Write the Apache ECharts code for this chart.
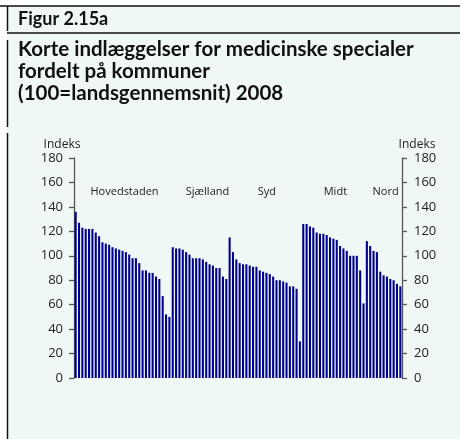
<!DOCTYPE html>
<html>
<head>
<meta charset="utf-8">
<script src="https://cdn.jsdelivr.net/npm/echarts@6/dist/echarts.min.js"></script>
<style>
html,body{margin:0;padding:0;background:#fff;}
#c{width:469px;height:439px;}
</style>
</head>
<body>
<div id="c"></div>
<script>
// ---- data ----
const regionNames = ["Hovedstaden", "Sjælland", "Syd", "Midt", "Nord"];
const hovedstaden = [136,127,123,122,122,122,119,116,111,110,109,107,106,105,104,103,101,98,98,94,88,88,86,86,83,81,67,52,50];
const sjaelland = [107,106,106,105,103,101,98,98,98,97,95,93,92,90,90,83,81];
const syd = [115,103,97,94,93,93,92,91,91,88,87,86,85,83,80,80,79,78,75,75,73,30];
const midt = [126,126,124,123,119,118,118,117,115,114,113,108,106,104,100,100,100,88,61];
const nord = [112,108,104,103,87,84,83,81,80,77,75];
const yTicks = [0,20,40,60,80,100,120,140,160,180];
const titleTop = "Figur 2.15a";
const titleLines = ["Korte indlæggelser for medicinske specialer", "fordelt på kommuner", "(100=landsgennemsnit) 2008"];
const axisName = "Indeks";

const regionData = [hovedstaden, sjaelland, syd, midt, nord];
const labelNudge = [0, 6, 0, 0, 0];
const categories = [];
const values = [];
const regionRanges = [];
regionData.forEach((arr, r) => {
  const start = categories.length;
  arr.forEach((v, i) => { categories.push(regionNames[r] + " " + (i + 1)); values.push(v); });
  regionRanges.push([start, categories.length - 1]);
});

const chart = echarts.init(document.getElementById('c'), null, {renderer: 'canvas'});
const tickFont = {fontFamily: 'Open Sans', fontSize: 13, color: '#222'};
const axisCommon = {
  type: 'value', min: yTicks[0], max: yTicks[yTicks.length - 1], interval: 20,
  axisLine: {show: true, lineStyle: {color: '#555', width: 1.3}},
  axisTick: {show: true, length: 5, lineStyle: {color: '#555', width: 1.3}},
  splitLine: {show: false},
};
chart.setOption({
  backgroundColor: '#ffffff',
  animation: false,
  grid: {left: 74, right: 67, top: 158, bottom: 61},
  xAxis: {type: 'category', data: categories, axisLine: {show: false}, axisTick: {show: false}, axisLabel: {show: false}},
  yAxis: [
    Object.assign({}, axisCommon, {position: 'left', axisLabel: Object.assign({margin: 11}, tickFont)}),
    Object.assign({}, axisCommon, {position: 'right', axisLabel: Object.assign({margin: 12}, tickFont)})
  ],
  series: [{type: 'bar', data: values, yAxisIndex: 0, barCategoryGap: '38%', itemStyle: {color: '#00008b'}}]
});

function build() {
  const g = [];
  g.push({type: 'rect', z: -10, shape: {x: 7, y: 6, width: 453, height: 433}, style: {fill: '#f0f8f5'}});
  g.push({type: 'line', shape: {x1: 0, y1: 6, x2: 460, y2: 6}, style: {stroke: '#111', lineWidth: 1.5}});
  g.push({type: 'line', shape: {x1: 7.5, y1: 6, x2: 7.5, y2: 31}, style: {stroke: '#111', lineWidth: 1.5}});
  g.push({type: 'line', shape: {x1: 7, y1: 33, x2: 460, y2: 33}, style: {stroke: '#111', lineWidth: 1.5}});
  g.push({type: 'line', shape: {x1: 7.5, y1: 40, x2: 7.5, y2: 127}, style: {stroke: '#111', lineWidth: 1.5}});
  g.push({type: 'line', shape: {x1: 7.5, y1: 133, x2: 7.5, y2: 439}, style: {stroke: '#111', lineWidth: 1.5}});
  g.push({type: 'text', x: 18, y: 19, style: {text: titleTop, font: 'bold 18px Lato', fill: '#111', verticalAlign: 'middle'}});
  titleLines.forEach((t, i) => {
    g.push({type: 'text', x: 18, y: 49 + i * 22, style: {text: t, font: 'bold 20.5px Lato', fill: '#111', verticalAlign: 'middle'}});
  });
  g.push({type: 'text', x: 62, y: 145, style: {text: axisName, font: '12px "Open Sans"', fill: '#222', align: 'center', verticalAlign: 'middle'}});
  g.push({type: 'text', x: 417, y: 145, style: {text: axisName, font: '12px "Open Sans"', fill: '#222', align: 'center', verticalAlign: 'middle'}});
  regionRanges.forEach((rg, r) => {
    const a = chart.convertToPixel({xAxisIndex: 0}, rg[0]);
    const b = chart.convertToPixel({xAxisIndex: 0}, rg[1]);
    g.push({type: 'text', x: (a + b) / 2 + 2 + labelNudge[r], y: 192, style: {text: regionNames[r], font: '11px "Open Sans"', fill: '#222', align: 'center', verticalAlign: 'middle'}});
  });
  chart.setOption({graphic: g});
}
build();
</script>
</body>
</html>
